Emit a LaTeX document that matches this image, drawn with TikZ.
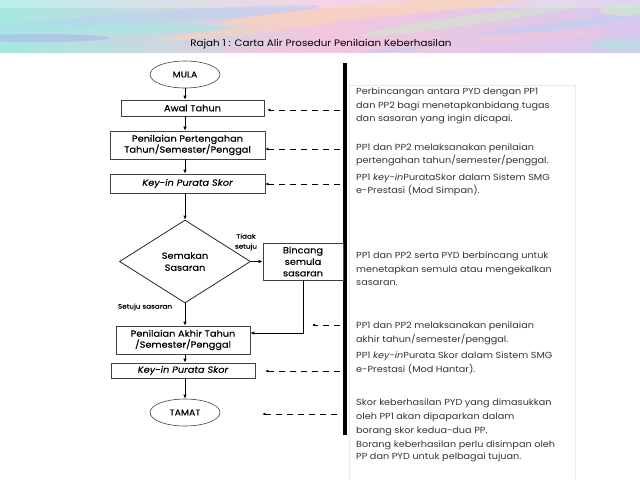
\documentclass[tikz,border=0pt]{standalone}
\usepackage{fontspec}
\setmainfont{Poppins}[FakeStretch=1.1]
\newfontfamily\flowfont{Poppins}[FakeStretch=1.1, FakeBold=0.3]
\usetikzlibrary{shapes.geometric,arrows.meta}
\definecolor{bcyan}{RGB}{165,232,225}
\definecolor{bblue}{RGB}{180,210,242}
\definecolor{bpeach}{RGB}{250,212,185}
\definecolor{bpink}{RGB}{242,198,222}
\definecolor{blav}{RGB}{215,200,238}
\definecolor{bpurp}{RGB}{175,165,238}
\definecolor{bgreen}{RGB}{205,238,200}
\begin{document}
\begin{tikzpicture}[x=1pt,y=-1pt,
  fbox/.style={draw=black!75, line width=0.6pt, inner sep=0pt, align=center,
    font=\flowfont\fontsize{8.9}{11}\selectfont},
  term/.style={ellipse, draw=black!75, line width=0.6pt, inner sep=0pt,
    minimum width=70pt, minimum height=27pt, font=\flowfont\fontsize{8.5}{10}\selectfont},
  arr/.style={-{Latex[length=4pt,width=3.5pt]}, line width=0.8pt},
  dasharr/.style={-{Latex[length=3pt,width=3pt]}, line width=0.8pt, dash pattern=on 6pt off 5pt},
  desc/.style={anchor=north west, align=left, inner sep=0pt, text=black!80,
    font=\fontsize{8.8}{13.5}\selectfont},
  small/.style={font=\flowfont\fontsize{6.6}{10}\selectfont, align=center, inner sep=0pt}]
\useasboundingbox (0,0) rectangle (640,480);
% banner
\shade[left color=bcyan, right color=blav, middle color=bpink] (0,0) rectangle (640,52);
\begin{scope}
\clip (0,0) rectangle (640,52);
\fill[white, opacity=0.25] (0,0) rectangle (640,8);
\fill[bblue, opacity=0.5, rotate around={4:(150,18)}] (150,18) ellipse (170 and 6);
\fill[bpeach, opacity=0.7, rotate around={5:(380,10)}] (380,10) ellipse (160 and 7);
\fill[bpeach, opacity=0.5, rotate around={6:(250,30)}] (250,30) ellipse (90 and 4);
\fill[bpurp, opacity=0.45] (40,38) ellipse (70 and 4);
\fill[bcyan, opacity=0.6] (110,28) ellipse (120 and 5);
\fill[bgreen, opacity=0.5, rotate around={8:(470,20)}] (470,20) ellipse (110 and 5);
\fill[bblue, opacity=0.5, rotate around={8:(500,34)}] (500,34) ellipse (140 and 4);
\fill[bpink, opacity=0.6, rotate around={3:(420,42)}] (420,42) ellipse (200 and 5);
\fill[bcyan, opacity=0.5] (620,45) ellipse (30 and 6);
\fill[bgreen, opacity=0.6] (625,10) ellipse (25 and 6);
\end{scope}
\node[font=\fontsize{9.4}{11}\selectfont, inner sep=0pt] (title) at (321,44) {Rajah 1 : Carta Alir Prosedur Penilaian Keberhasilan};
% faint frame of the text column
\draw[black!8, line width=0.6pt] (349,480) -- (349,85) -- (575,85) -- (575,480);
% bar
\coordinate (bartop) at (345,63);
\coordinate (barbot) at (345,435);
\draw[line width=4.5pt] (bartop) -- (barbot);
% flowchart
\node[term] (mula) at (185,74.5) {MULA};
\node[fbox, minimum width=143pt, minimum height=16pt] (awal) at (192.5,108) {Awal Tahun};
\node[fbox, minimum width=155pt, minimum height=28pt] (pert) at (187.5,145) {Penilaian Pertengahan\\Tahun/Semester/Penggal};
\node[fbox, minimum width=155pt, minimum height=19pt] (key1) at (187.5,183.5) {\itshape Key-in Purata Skor};
\node[diamond, draw=black!85, line width=0.8pt, inner sep=0pt, minimum width=131pt, minimum height=83pt,
  align=center, font=\flowfont\fontsize{8.9}{12}\selectfont] (dia) at (185,261.5) {Semakan\\Sasaran};
\node[fbox, minimum width=80pt, minimum height=37pt, font=\flowfont\fontsize{8.9}{11.5}\selectfont] (binc) at (303,261.5) {Bincang\\semula\\sasaran};
\node[fbox, minimum width=134pt, minimum height=28pt] (akhir) at (183,340) {Penilaian Akhir Tahun\\/Semester/Penggal};
\node[fbox, minimum width=144pt, minimum height=15pt] (key2) at (183,370.5) {\itshape Key-in Purata Skor};
\node[term] (tamat) at (185,412.5) {TAMAT};
\node[small] (tidak) at (246,242) {Tidak\\setuju};
\node[small] (setuju) at (145,307) {Setuju sasaran};
% arrows
\draw[arr] (mula.south) -- (mula.south |- awal.north);
\draw[arr] (mula.south |- awal.south) -- (mula.south |- pert.north);
\draw[arr] (mula.south |- pert.south) -- (mula.south |- key1.north);
\draw[arr] (mula.south |- key1.south) -- (dia.north);
\draw[arr] (dia.east) -- (binc.west);
\draw[arr] (dia.south) -- (dia.south |- akhir.north);
\draw[arr] (binc.south) |- ([yshift=7pt]akhir.east);
\draw[arr] (dia.south |- akhir.south) -- (dia.south |- key2.north);
\draw[arr] (dia.south |- key2.south) -- (tamat.north);
% dashed arrows
\coordinate (d1) at (340,110);
\coordinate (d2) at (340,149);
\coordinate (d3) at (340,184);
\coordinate (d4) at (340,325);
\coordinate (d4e) at (312,325);
\coordinate (d5) at (340,371);
\coordinate (d6) at (337,414);
\draw[dasharr, shorten >=3pt] (d1) -- (d1 -| awal.east);
\draw[dasharr] (d2) -- (d2 -| pert.east);
\draw[dasharr] (d3) -- (d3 -| key1.east);
\draw[dasharr] (d4) -- (d4e);
\draw[dasharr, shorten >=10pt] (d5) -- (d5 -| key2.east);
\draw[dasharr] (d6) -- ([xshift=42pt]d6 -| tamat.east);
% descriptions
\node[desc] (t1) at (356,88) {Perbincangan antara PYD dengan PP1\\dan PP2 bagi menetapkanbidang tugas\\dan sasaran yang ingin dicapai.};
\node[desc, font=\fontsize{8.8}{13}\selectfont] (t2) at (356,144) {PP1 dan PP2 melaksanakan penilaian\\pertengahan tahun/semester/penggal.};
\node[desc, font=\fontsize{8.8}{12.5}\selectfont] (t3) at (356,174) {PP1 \textit{key-in}PurataSkor dalam Sistem SMG\\e-Prestasi (Mod Simpan).};
\node[desc] (t4) at (356,252) {PP1 dan PP2 serta PYD berbincang untuk\\menetapkan semula atau mengekalkan\\sasaran.};
\node[desc] (t5) at (356,322) {PP1 dan PP2 melaksanakan penilaian\\akhir tahun/semester/penggal.};
\node[desc] (t6) at (356,352) {PP1 \textit{key-in}Purata Skor dalam Sistem SMG\\e-Prestasi (Mod Hantar).};
\node[desc, font=\fontsize{8.8}{14}\selectfont] (t7) at (356,399) {Skor keberhasilan PYD yang dimasukkan\\oleh PP1 akan dipaparkan dalam\\borang skor kedua-dua PP.};
\node[desc, font=\fontsize{8.8}{11.5}\selectfont] (t8) at (356,441) {Borang keberhasilan perlu disimpan oleh\\PP dan PYD untuk pelbagai tujuan.};
\end{tikzpicture}
\end{document}
